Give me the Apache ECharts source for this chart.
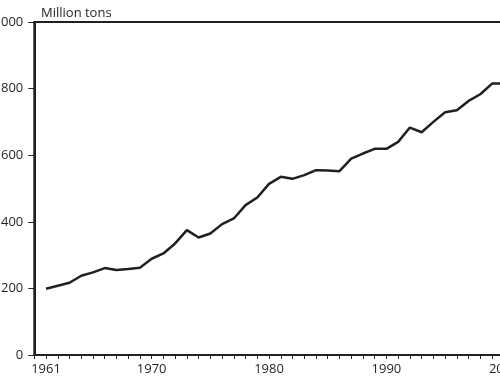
<!DOCTYPE html>
<html>
<head>
<meta charset="utf-8">
<script src="https://cdn.jsdelivr.net/npm/echarts@6/dist/echarts.min.js"></script>
<style>html,body{margin:0;padding:0;background:#fff}#c{width:500px;height:380px}</style>
</head>
<body>
<div id="c"></div>
<script>
const years = [1961,1962,1963,1964,1965,1966,1967,1968,1969,1970,1971,1972,1973,1974,1975,1976,1977,1978,1979,1980,1981,1982,1983,1984,1985,1986,1987,1988,1989,1990,1991,1992,1993,1994,1995,1996,1997,1998,1999,2000];
const values = [199,208,217,238,248,261,255,258,262,289,305,335,375,353,365,393,410,450,473,514,535,529,540,555,554,552,590,605,619,619,640,683,669,700,729,735,763,783,815,815];
const xLabels = [1961,1970,1980,1990,2000];
const yTicks = [0,200,400,600,800,1000];
const unitLabel = 'Million tons';

const ink = '#231f20';
const chart = echarts.init(document.getElementById('c'), null, {renderer:'canvas'});
chart.setOption({
  animation:false,
  title:{text:unitLabel,left:36,top:2,textStyle:{fontFamily:'Open Sans',fontSize:13,fontWeight:'normal',color:ink}},
  grid:{left:34.3,top:22,bottom:25,right:-39,show:true,borderColor:ink,borderWidth:2,containLabel:false,outerBoundsMode:'none'},
  xAxis:{type:'value',min:1960,max:2003,interval:1,
    axisLine:{lineStyle:{color:ink,width:2}},
    axisTick:{length:4,lineStyle:{color:ink,width:1}},
    splitLine:{show:false},
    axisLabel:{margin:8,color:ink,fontFamily:'Open Sans',fontSize:13,
      formatter:v=>xLabels.includes(v)?String(v):''}},
  yAxis:{type:'value',min:yTicks[0],max:yTicks[yTicks.length-1],interval:200,
    axisLine:{show:true,lineStyle:{color:ink,width:2}},
    axisTick:{show:true,length:6,lineStyle:{color:ink,width:1}},
    splitLine:{show:false},
    axisLabel:{margin:11,color:ink,fontFamily:'Open Sans',fontSize:13,formatter:v=>String(v)}},
  series:[{type:'line',data:years.map((y,i)=>[y,values[i]]),showSymbol:false,
    lineStyle:{color:ink,width:2.5},clip:false}]
});
</script>
</body>
</html>
